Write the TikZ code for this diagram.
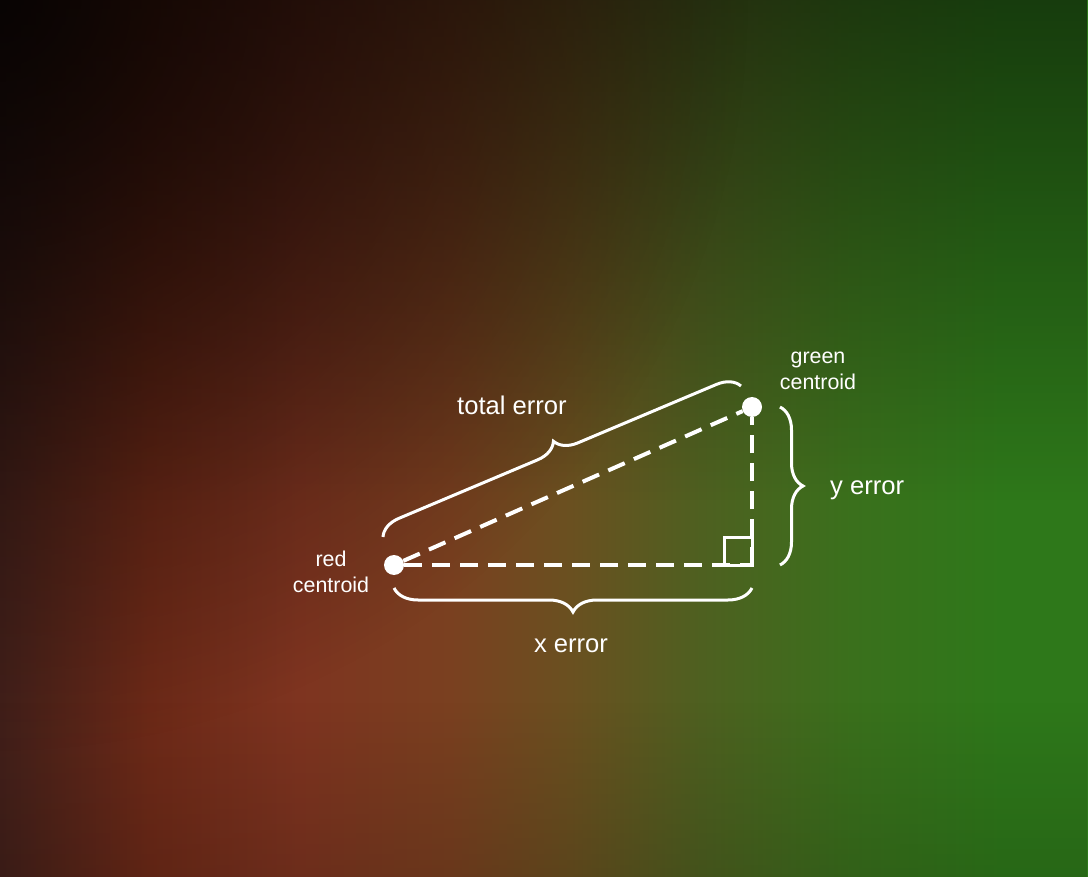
\documentclass[tikz,border=0pt]{standalone}
\usepackage{fontspec}
\setmainfont{Liberation Sans}
\usetikzlibrary{decorations.pathreplacing,fadings}
\definecolor{c0}{HTML}{42201A}
\definecolor{c1}{HTML}{6E2A18}
\definecolor{c2}{HTML}{7E3420}
\definecolor{c3}{HTML}{7A4020}
\definecolor{c4}{HTML}{6A5020}
\definecolor{c5}{HTML}{4E6020}
\definecolor{c6}{HTML}{3A701C}
\definecolor{c7}{HTML}{2E781A}
\definecolor{c8}{HTML}{2E781A}
\pgfdeclarehorizontalshading{bgshade}{100bp}{color(0bp)=(c0); color(25bp)=(c0); color(31.9bp)=(c1); color(38.8bp)=(c2); color(45.7bp)=(c3); color(51.2bp)=(c4); color(57.2bp)=(c5); color(64.1bp)=(c6); color(71bp)=(c7); color(75bp)=(c8); color(100bp)=(c8)}
\tikzfading[name=topdark, top color=transparent!50, middle color=transparent!90, bottom color=transparent!100]
\tikzfading[name=bottomdark, top color=transparent!100, bottom color=transparent!60]
\tikzfading[name=cornerfade, inner color=transparent!0, outer color=transparent!100]
\tikzset{
  dot/.style={circle, fill=white, draw=none, inner sep=0pt, minimum size=20pt},
  dashline/.style={white, line width=4pt, dash pattern=on 18pt off 10pt},
  sqbox/.style={white, line width=3pt},
  bracestyle/.style={white, line width=3pt, decorate, decoration={brace, amplitude=#1}},
  biglbl/.style={text=white, inner sep=0pt, font=\fontsize{25.6}{30}\selectfont},
  smalllbl/.style={text=white, inner sep=0pt, align=center, font=\fontsize{21.4}{26}\selectfont},
}
\begin{document}
\begin{tikzpicture}[x=1pt,y=-1pt]
\useasboundingbox (0,0) rectangle (1088,877);
% background
\shade[shading=bgshade] (-2,-2) rectangle (1090,879);
\fill[black, path fading=topdark] (-2,-2) rectangle (1090,500);
\fill[black, path fading=bottomdark, opacity=0.35] (-2,700) rectangle (1090,879);
\fill[black, opacity=0.75, path fading=cornerfade] (0,0) circle (750);
% points
\node[dot] (red) at (394,565) {};
\node[dot] (green) at (752,407) {};
\coordinate (corner) at (752,565);
\coordinate (sqc) at (724,537);
% dashed triangle
\draw[dashline] (red) -- (corner);
\draw[dashline] (corner) -- (green);
\draw[dashline] (red) -- (green);
\draw[sqbox] (sqc) rectangle (corner);
% braces
\coordinate (xb1) at (752,588);
\coordinate (xb2) at (394,588);
\coordinate (yb1) at (780,407);
\coordinate (yb2) at (780,565);
\coordinate (tb1) at (383,537);
\coordinate (tb2) at (741,386);
\draw[bracestyle=24pt] (xb1) -- (xb2);
\draw[bracestyle=23pt] (yb1) -- (yb2);
\draw[bracestyle=22pt] (tb1) -- (tb2);
% labels
\node[biglbl, anchor=base west] (tot) at (457,415) {total error};
\node[biglbl, anchor=base] (xerr) at (571,652) {x error};
\node[biglbl, anchor=base west] (yerr) at (830,494) {y error};
\node[smalllbl] (redlbl) at (331,572) {red\\centroid};
\node[smalllbl] (greenlbl) at (818,371) {green\\centroid};
\end{tikzpicture}
\end{document}
